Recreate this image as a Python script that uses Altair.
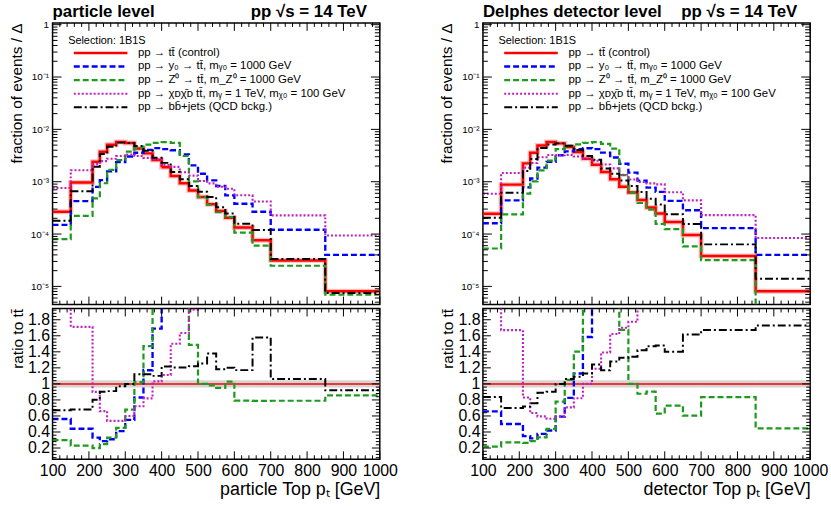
import altair as alt
import pandas as pd

FONT = "Liberation Sans"

# ---------------- data ----------------
edges = [100, 150, 210, 230, 250, 275, 300, 325, 350, 375, 400, 425, 450,
         475, 500, 525, 550, 575, 600, 650, 700, 850, 1000]

labels = [
    "pp → tt̄ (control)",
    "pp → y₀ → tt̄, mᵧ₀ = 1000 GeV",
    "pp → Z⁰ → tt̄, m_Z⁰ = 1000 GeV",
    "pp → χᴅχ̄ᴅ tt̄, mᵧ = 1 TeV, mᵪ₀ = 100 GeV",
    "pp → bb̄+jets (QCD bckg.)",
]
colors = ["#ff0000", "#0000ff", "#1e9a1e", "#c020c0", "#000000"]
dashes = [[1, 0], [6, 3], [6, 3], [2, 2], [8, 3, 2, 3]]
widths = [2.5, 2, 2, 2, 2]

# particle level
red_p = [2.67e-4, 9.7e-4, 2.41e-3, 3.74e-3, 5.1e-3, 5.75e-3, 5.5e-3, 4.3e-3, 3.48e-3, 2.6e-3, 1.88e-3,
         1.28e-3, 9.3e-4, 6.8e-4, 5.1e-4, 3.7e-4, 2.75e-4, 2.05e-4, 1.34e-4, 7.6e-5, 3.14e-5, 8.1e-6]
blue_p = [1.5e-4, 4.27e-4, 7.95e-4, 1.07e-3, 1.58e-3, 2.36e-3, 3.03e-3, 3.57e-3, 4.07e-3, 4.39e-3, 4.2e-3,
          4.0e-3, 3.33e-3, 2.05e-3, 1.42e-3, 1.06e-3, 8.3e-4, 5.5e-4, 3.8e-4, 2.67e-4, 1.21e-4, 4.0e-5]
green_p = [8.0e-5, 2.23e-4, 4.82e-4, 9.35e-4, 1.68e-3, 2.59e-3, 3.74e-3, 4.39e-3, 5.12e-3, 5.5e-3, 5.7e-3,
           5.5e-3, 3.1e-3, 1.01e-3, 5.1e-4, 3.63e-4, 2.61e-4, 2.11e-4, 1.06e-4, 6.0e-5, 2.48e-5, 6.93e-6]
pink_p = [7.6e-4, 1.66e-3, 2.17e-3, 2.47e-3, 2.75e-3, 3.1e-3, 3.3e-3, 3.1e-3, 2.85e-3, 2.68e-3, 2.09e-3,
          1.92e-3, 1.52e-3, 1.31e-3, 1.03e-3, 9.3e-4, 8.0e-4, 7.35e-4, 5.5e-4, 4.2e-4, 2.28e-4, 9.4e-5]
black_p = [1.79e-4, 6.6e-4, 1.93e-3, 3.37e-3, 4.64e-3, 5.58e-3, 5.5e-3, 4.82e-3, 3.9e-3, 2.86e-3, 2.29e-3,
           1.54e-3, 1.12e-3, 8.3e-4, 6.4e-4, 5.1e-4, 3.25e-4, 2.46e-4, 1.57e-4, 1.2e-4, 3.33e-5, 7.45e-6]

# detector level
red_d = [2.45e-4, 8.8e-4, 2.24e-3, 3.58e-3, 4.94e-3, 5.73e-3, 5.4e-3, 4.6e-3, 3.69e-3, 2.75e-3, 2.11e-3,
         1.53e-3, 1.11e-3, 8.0e-4, 6.2e-4, 4.47e-4, 3.23e-4, 2.48e-4, 1.7e-4, 9.6e-5, 3.8e-5, 8.1e-6]
blue_d = [1.61e-4, 4.4e-4, 7.8e-4, 1.15e-3, 1.86e-3, 2.4e-3, 3.2e-3, 3.8e-3, 4.17e-3, 4.36e-3, 4.2e-3,
          3.6e-3, 2.9e-3, 2.2e-3, 1.49e-3, 1.05e-3, 7.7e-4, 6.4e-4, 4.3e-4, 2.85e-4, 1.3e-4, 4.0e-5]
green_d = [5.3e-5, 2.38e-4, 5.9e-4, 1.02e-3, 1.65e-3, 2.52e-3, 4.2e-3, 4.83e-3, 5.17e-3, 5.5e-3, 5.7e-3,
           5.3e-3, 4.3e-3, 1.34e-3, 6.2e-4, 3.92e-4, 2.92e-4, 1.56e-4, 1.24e-4, 5.8e-5, 3.17e-5, 3.6e-6]
pink_d = [5.9e-4, 1.47e-3, 1.86e-3, 2.28e-3, 2.94e-3, 3.24e-3, 3.21e-3, 3.25e-3, 3.03e-3, 2.75e-3, 2.51e-3,
          2.13e-3, 1.8e-3, 1.36e-3, 1.1e-3, 9.9e-4, 9.3e-4, 8.9e-4, 6.3e-4, 4.4e-4, 2.3e-4, 8.4e-5]
black_d = [2.05e-4, 6.16e-4, 1.61e-3, 2.72e-3, 4.4e-3, 5.16e-3, 5.4e-3, 4.88e-3, 4.02e-3, 3.11e-3, 2.62e-3,
           1.79e-3, 1.42e-3, 1.06e-3, 8.3e-4, 6.35e-4, 4.75e-4, 3.67e-4, 2.38e-4, 1.55e-4, 6.35e-5, 1.4e-5]

# relative uncertainty of the control sample (ratio band)
ctrl_unc = [0.045] * 22

# axis ticks
x_major = [100, 200, 300, 400, 500, 600, 700, 800, 900, 1000]
x_minor = [v for v in range(100, 1001, 20) if v % 100]
log_major = [1e-5, 1e-4, 1e-3, 1e-2, 1e-1, 1.0]
rat_major = [0.2, 0.4, 0.6, 0.8, 1.0, 1.2, 1.4, 1.6, 1.8]

W, H_TOP, H_RAT = 330, 284, 152
Y_DOM_TOP = [4.5e-6, 1.08]
Y_DOM_RAT = [0.06, 1.94]
X_DOM = [100, 1000]

log_minor = [k * 10.0 ** e for e in range(-6, 1) for k in range(2, 10)
             if Y_DOM_TOP[0] <= k * 10.0 ** e <= Y_DOM_TOP[1]]
rat_minor = [round(0.04 * i, 2) for i in range(2, 49) if i % 5 != 0]


def step_df(series_vals):
    rows = []
    for lab, vals in zip(labels, series_vals):
        for i, v in enumerate(vals):
            rows.append({"x": edges[i], "v": v, "series": lab})
        rows.append({"x": edges[-1], "v": vals[-1], "series": lab})
    return pd.DataFrame(rows)


def yticks(vals, scale, axis, length):
    df = pd.DataFrame({"t": vals})
    base = alt.Chart(df).mark_rule(color="black", strokeWidth=1)
    return [
        base.encode(y=alt.Y("t:Q", scale=scale, axis=axis), x=alt.value(0), x2=alt.value(length)),
        base.encode(y=alt.Y("t:Q", scale=scale, axis=axis), x=alt.value(W - length), x2=alt.value(W)),
    ]


def xticks(vals, scale, axis, length, H):
    df = pd.DataFrame({"t": vals})
    base = alt.Chart(df).mark_rule(color="black", strokeWidth=1)
    return [
        base.encode(x=alt.X("t:Q", scale=scale, axis=axis), y=alt.value(H - length), y2=alt.value(H)),
        base.encode(x=alt.X("t:Q", scale=scale, axis=axis), y=alt.value(0), y2=alt.value(length)),
    ]


def enc_series(legend):
    return dict(
        color=alt.Color("series:N", scale=alt.Scale(domain=labels, range=colors), legend=legend),
        strokeDash=alt.StrokeDash("series:N", scale=alt.Scale(domain=labels, range=dashes), legend=legend),
        strokeWidth=alt.StrokeWidth("series:N", scale=alt.Scale(domain=labels, range=widths), legend=legend),
    )


def header_text(text, align, xpos):
    return alt.Chart(pd.DataFrame({"a": [0]})).mark_text(
        text=text, align=align, baseline="bottom",
        font=FONT, fontSize=17, fontWeight="bold", color="black",
    ).encode(x=alt.value(xpos), y=alt.value(-1.5))


def top_panel(series_vals, title):
    xs = alt.Scale(domain=X_DOM, nice=False, zero=False)
    ys = alt.Scale(type="log", domain=Y_DOM_TOP, nice=False)
    df = step_df(series_vals)
    red = df[df["series"] == labels[0]]

    yaxis = alt.Axis(
        values=log_major,
        labelExpr="datum.value >= 0.5 ? '1' : '10' + '⁻' + ['⁰','¹','²','³','⁴','⁵','⁶'][round(-log(datum.value)/LN10)]",
        ticks=False, domain=False, grid=False,
        labelFont=FONT, labelFontSize=10, labelPadding=4, labelColor="black",
        title="fraction of events / Δ", titleFont=FONT, titleFontSize=15.5,
        titleFontWeight="normal", titleAnchor="end", titlePadding=6, titleColor="black",
    )
    leg = alt.Legend(
        title="Selection: 1B1S", orient="none", legendX=15.7, legendY=12.5,
        symbolType="M-6.75,0H6.75", symbolSize=64, symbolOffset=27, labelOffset=32,
        labelFont=FONT, labelFontSize=11.5, labelLimit=400, labelColor="black",
        titleFont=FONT, titleFontSize=11, titleFontWeight="normal", titleColor="black",
        titlePadding=1.0, rowPadding=0.7, padding=0,
    )

    halo = alt.Chart(red).mark_line(
        interpolate="step-after", clip=True, color="#ff0000", opacity=0.25, strokeWidth=5
    ).encode(x=alt.X("x:Q", scale=xs, axis=None), y=alt.Y("v:Q", scale=ys, axis=yaxis))

    lines = alt.Chart(df).mark_line(interpolate="step-after", clip=True).encode(
        x=alt.X("x:Q", scale=xs, axis=None),
        y=alt.Y("v:Q", scale=ys, axis=yaxis),
        **enc_series(leg),
    )

    layers = [halo, lines]
    layers += yticks(log_major, ys, yaxis, 9) + yticks(log_minor, ys, yaxis, 5)
    layers += xticks(x_major, xs, None, 8, H_TOP) + xticks(x_minor, xs, None, 4, H_TOP)
    layers += [header_text(title, "left", 0), header_text("pp  √s = 14 TeV", "right", W - 13)]
    return alt.layer(*layers).properties(width=W, height=H_TOP)


def ratio_panel(series_vals, xtitle):
    xs = alt.Scale(domain=X_DOM, nice=False, zero=False)
    ys = alt.Scale(domain=Y_DOM_RAT, nice=False, zero=False)
    red_vals = series_vals[0]
    ratios = [[v / r for v, r in zip(s, red_vals)] for s in series_vals]
    df = step_df(ratios)
    df_red = df[df["series"] == labels[0]]
    df_oth = df[df["series"] != labels[0]]

    band = pd.DataFrame({
        "lo": edges[:-1], "hi": edges[1:],
        "b1": [1 - u for u in ctrl_unc], "b2": [1 + u for u in ctrl_unc],
    })

    xaxis = alt.Axis(
        values=x_major, format="d", ticks=False, domain=False, grid=False,
        labelFont=FONT, labelFontSize=16, labelPadding=3, labelFlush=False,
        labelOverlap=False, labelColor="black",
        title=xtitle, titleFont=FONT, titleFontSize=18, titleFontWeight="normal",
        titleAnchor="end", titlePadding=3, titleColor="black",
    )
    yaxis = alt.Axis(
        values=rat_major,
        labelExpr="abs(datum.value - 1) < 1e-6 ? '1' : format(datum.value, '.1f')",
        ticks=False, domain=False, grid=False,
        labelFont=FONT, labelFontSize=16, labelPadding=3, labelColor="black",
        title="ratio to tt̄", titleFont=FONT, titleFontSize=15.5, titleFontWeight="normal",
        titleAnchor="end", titlePadding=2, titleColor="black",
    )

    band_l = alt.Chart(band).mark_rect(color="#a0a0a0", opacity=0.45).encode(
        x=alt.X("lo:Q", scale=xs, axis=xaxis), x2="hi:Q",
        y=alt.Y("b1:Q", scale=ys, axis=yaxis), y2="b2:Q",
    )
    red_l = alt.Chart(df_red).mark_line(
        interpolate="step-after", clip=True, color="#ff0000", strokeWidth=1.5
    ).encode(x=alt.X("x:Q", scale=xs, axis=xaxis), y=alt.Y("v:Q", scale=ys, axis=yaxis))
    oth = alt.Chart(df_oth).mark_line(interpolate="step-after", clip=True).encode(
        x=alt.X("x:Q", scale=xs, axis=xaxis),
        y=alt.Y("v:Q", scale=ys, axis=yaxis),
        **enc_series(None),
    )
    layers = [band_l, red_l, oth]
    layers += yticks(rat_major, ys, yaxis, 8) + yticks(rat_minor, ys, yaxis, 4)
    layers += xticks(x_major, xs, xaxis, 8, H_RAT) + xticks(x_minor, xs, xaxis, 4, H_RAT)
    return alt.layer(*layers).properties(width=W, height=H_RAT)


RES = dict(color="independent", strokeDash="independent", strokeWidth="independent")

left = alt.vconcat(
    top_panel([red_p, blue_p, green_p, pink_p, black_p], "particle level"),
    ratio_panel([red_p, blue_p, green_p, pink_p, black_p], "particle Top pₜ [GeV]"),
    spacing=0,
).resolve_scale(**RES).resolve_legend(**RES)

right = alt.vconcat(
    top_panel([red_d, blue_d, green_d, pink_d, black_d], "Delphes detector level"),
    ratio_panel([red_d, blue_d, green_d, pink_d, black_d], "detector Top pₜ [GeV]"),
    spacing=0,
).resolve_scale(**RES).resolve_legend(**RES)

chart = alt.hconcat(left, right, spacing=40).resolve_scale(**RES).resolve_legend(**RES).configure(
    padding={"left": 8, "top": 0, "right": 2, "bottom": 2},
    font=FONT, background="white",
).configure_view(stroke="black", strokeWidth=1.5)

chart.save("out.html", embed_options={"renderer": "svg", "actions": False})
